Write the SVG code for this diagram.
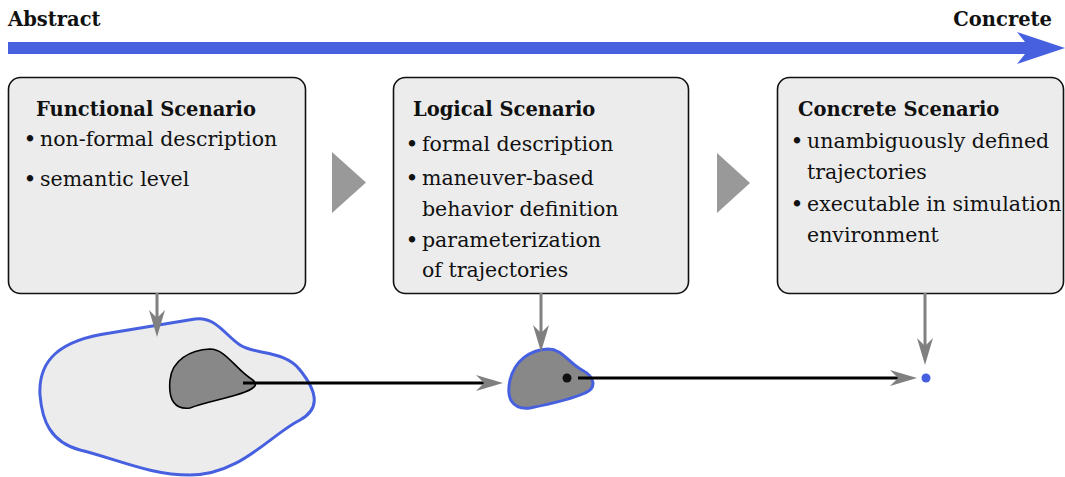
<svg xmlns="http://www.w3.org/2000/svg" width="1065" height="477" viewBox="0 0 1065 477">
<style>
.hdr{font-family:"DejaVu Serif",serif;font-weight:bold;font-size:19.5px;fill:#111}
.ttl{font-family:"DejaVu Serif",serif;font-weight:bold;font-size:19.5px;fill:#111}
.txt{font-family:"DejaVu Serif",serif;font-size:20.5px;fill:#111}
.bul{font-family:"DejaVu Serif",serif;font-size:22px;fill:#111;text-anchor:middle}
.box{fill:#ececec;stroke:#111;stroke-width:1.6}
.tri{fill:#999}
.garr{stroke:#808080;stroke-width:3;fill:none}
.ghead{fill:#808080}
.blk{stroke:#000;stroke-width:3;fill:none}
</style>
<rect width="1065" height="477" fill="#fff"/>
<g id="axis">
<text class="hdr" x="8" y="26">Abstract</text>
<text class="hdr" x="1052" y="26" text-anchor="end">Concrete</text>
<path d="M8,42 L1025,42 L1017,32 L1065,48 L1017,64 L1025,54 L8,54 Z" fill="#4660e0"/>
</g>
<g id="functional">
<rect class="box" x="8.5" y="77.5" width="297" height="216" rx="12"/>
<text class="ttl" x="36" y="116">Functional Scenario</text>
<text class="bul" x="30" y="147">•</text><text class="txt" x="40" y="146">non-formal description</text>
<text class="bul" x="30" y="187">•</text><text class="txt" x="40" y="186">semantic level</text>
</g>
<g id="logical">
<rect class="box" x="393.5" y="77.5" width="295" height="216" rx="12"/>
<text class="ttl" x="413" y="116">Logical Scenario</text>
<text class="bul" x="412" y="152">•</text><text class="txt" x="422" y="151">formal description</text>
<text class="bul" x="412" y="186">•</text><text class="txt" x="422" y="185">maneuver-based</text>
<text class="txt" x="422" y="216">behavior definition</text>
<text class="bul" x="412" y="248">•</text><text class="txt" x="422" y="247">parameterization</text>
<text class="txt" x="422" y="277">of trajectories</text>
</g>
<g id="concrete">
<rect class="box" x="777.5" y="77.5" width="286" height="216" rx="12"/>
<text class="ttl" x="798" y="116">Concrete Scenario</text>
<text class="bul" x="797" y="149">•</text><text class="txt" x="807" y="148">unambiguously defined</text>
<text class="txt" x="807" y="179">trajectories</text>
<text class="bul" x="797" y="212">•</text><text class="txt" x="807" y="211">executable in simulation</text>
<text class="txt" x="807" y="242">environment</text>
</g>
<g id="steps">
<polygon class="tri" points="332,152 366,182.5 332,213"/>
<polygon class="tri" points="717,153 750,183 717,213"/>
</g>
<g id="space-functional">
<path d="M40,395 C38,360 60,340 110,333 L195,319 C215,316 225,335 240,345 C255,355 285,350 300,370 C320,395 318,410 300,420 C270,435 240,475 190,475 C150,475 120,460 80,450 C50,442 42,420 40,395 Z" fill="#ececec" stroke="#4660e0" stroke-width="3"/>
<path d="M170,380 C172,360 190,350 210,349 C225,349 235,368 250,378 C260,384 255,388 245,392 C230,398 205,402 190,408 C175,410 168,400 170,380 Z" fill="#888" stroke="#000" stroke-width="1.6"/>
</g>
<g id="space-logical">
<path d="M510,380 C515,360 530,350 548,349 C562,349 568,362 582,370 C595,377 597,388 585,393 C570,400 545,405 530,408 C512,410 506,398 510,380 Z" fill="#888" stroke="#4660e0" stroke-width="3"/>
<circle cx="567" cy="378" r="4.5" fill="#111"/>
</g>
<g id="space-concrete">
<circle cx="926" cy="378" r="4.5" fill="#4660e0"/>
</g>
<g id="connectors">
<line class="garr" x1="157" y1="293" x2="157" y2="320"/>
<path class="ghead" d="M157,337 L149,310 L157,318 L165,310 Z"/>
<line class="garr" x1="541" y1="293" x2="541" y2="335"/>
<path class="ghead" d="M541,352 L533,325 L541,333 L549,325 Z"/>
<line class="garr" x1="925" y1="293" x2="925" y2="348"/>
<path class="ghead" d="M925,365 L917,338 L925,346 L933,338 Z"/>
<line class="blk" x1="243" y1="383" x2="486" y2="383"/>
<path class="ghead" d="M503,383 L476,375 L484,383 L476,391 Z"/>
<line class="blk" x1="578" y1="378" x2="899" y2="378"/>
<path class="ghead" d="M917,378 L890,370 L898,378 L890,386 Z"/>
</g>
</svg>
